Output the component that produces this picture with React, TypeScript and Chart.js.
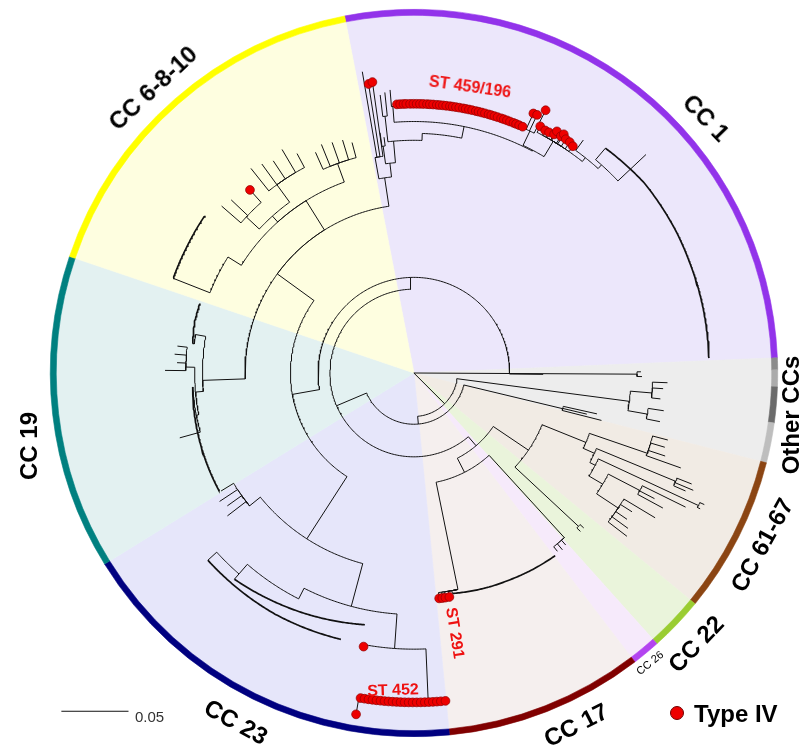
import React, { useEffect, useRef } from "react";
import { Chart, registerables } from "chart.js";

Chart.register(...registerables);

/* ---------- clade sectors (clockwise, starting at the CC 6-8-10 | CC 1 boundary) ---------- */
const cladeNames = ["CC 1", "Other CCs", "CC 61-67", "CC 22", "CC 26", "CC 17", "CC 23", "CC 19", "CC 6-8-10"];
const cladeSpanDeg = [98.6, 16.7, 25.1, 8.7, 4.5, 31.8, 63.9, 50.4, 60.3];
const cladeShade = ["#ECE7FB", "#EDEDED", "#F1EBE4", "#EAF4DB", "#F6EAFB", "#F5EFEE", "#E6E6FA", "#E3F1F1", "#FEFEE0"];

/* outer ring: same clades, "Other CCs" split into its four small groups */
const ringNames = ["CC 1", "Other a", "Other b", "Other c", "Other d", "CC 61-67", "CC 22", "CC 26", "CC 17", "CC 23", "CC 19", "CC 6-8-10"];
const ringSpanDeg = [98.6, 1.9, 2.7, 5.7, 6.4, 25.1, 8.7, 4.5, 31.8, 63.9, 50.4, 60.3];
const ringColor = ["#9233EA", "#8C8C8C", "#ABABAB", "#6B6B6B", "#BEBEBE", "#8B4513", "#9ACD32", "#B344F0", "#800000", "#000080", "#008080", "#FFFF00"];
const firstSectorBearing = -11;

/* ---------- tree nodes: [id, parent, bearing (deg, clockwise from top), distance from root (0.001 subst./site), Type IV] ---------- */
type TreeNode = [string, string | null, number, number, number?];
const treeNodes: TreeNode[] = [
  ["root", null, 90, 0],
  ["o1", "root", 90.3, 166.2],
  ["o1a", "o1", 89.7, 169.1],
  ["o1b", "o1", 90.9, 169.9],
  ["s1", "root", 135, 32.4],
  ["o2", "s1", 97.5, 161.8],
  ["o2a", "o2", 94.8, 177.9],
  ["o2a1", "o2a", 92.2, 189.0],
  ["o2a2", "o2a", 93.6, 186.0],
  ["o2a3", "o2a", 96.0, 184.6],
  ["o2b", "o2", 100.0, 176.5],
  ["o2b1", "o2b", 98.6, 188.2],
  ["o2b2", "o2b", 101.2, 186.8],
  ["s2", "s1", 175, 38.2],
  ["o3", "s2", 103.5, 114.0],
  ["o3a", "o3", 102.6, 139.7],
  ["o3b", "o3", 103.4, 132.4],
  ["o3c", "o3", 104.2, 144.1],
  ["n2", "s2", 247, 62.5],
  ["n3", "n2", 139.5, 71.3],
  ["c61", "n3", 124, 102.9],
  ["c61a", "c61", 112, 138.2],
  ["d1", "c61a", 109, 183.8],
  ["d1a", "d1", 104.8, 195.6],
  ["d1b", "d1", 106.5, 194.9],
  ["d1c", "d1", 108.3, 197.1],
  ["d1d", "d1", 109.6, 211.0],
  ["d2", "c61a", 114, 147.1],
  ["d3", "d2", 112.5, 211.0],
  ["d3a", "d3", 111.8, 222.8],
  ["d3b", "d3", 112.8, 225.7],
  ["d3c", "d3", 113.5, 220.6],
  ["d4", "d2", 117, 151.5],
  ["d5", "d4", 115, 233.8],
  ["d5a", "d5", 114.4, 237.5],
  ["d5b", "d5", 115.4, 236.0],
  ["d6", "d4", 120.5, 163.2],
  ["d7", "d6", 117.5, 189.7],
  ["d7a", "d7", 116.3, 225.7],
  ["d7b", "d7", 117.6, 202.2],
  ["d7c", "d7", 118.5, 211.0],
  ["d8", "d6", 123.5, 182.4],
  ["d8a", "d8", 121.0, 209.6],
  ["d8b", "d8", 122.5, 192.6],
  ["d8c", "d8", 124.5, 192.6],
  ["d8d", "d8", 126.0, 197.1],
  ["d8e", "d8", 127.5, 200.0],
  ["c22", "c61", 133, 167.6],
  ["c22a", "c22", 132.4, 171.3],
  ["c22b", "c22", 133.6, 171.3],
  ["n4", "n3", 153, 83.1],
  ["c26", "n4", 137.6, 166.2],
  ["c26a", "c26", 138.6, 171.0],
  ["c26b", "c26", 140.0, 172.1],
  ["c26c", "c26", 141.2, 170.6],
  ["c17", "n4", 168.5, 164.7],
  ["n1", "n2", 358, 71.3],
  ["o0", "n1", 90.6, 96.3],
  ["l1", "n1", 260, 91.9],
  ["a", "l1", 306, 125.7],
  ["c19", "a", 268, 157.4],
  ["c19a", "c19", 280, 165.0],
  ["c19b", "c19", 265, 163.2],
  ["c19c", "c19b", 271.5, 169.9],
  ["c19c1", "c19c", 270.6, 185.3],
  ["c19c2", "c19c", 272.5, 176.5],
  ["c19c3", "c19c", 274.5, 178.7],
  ["c19c4", "c19c", 276.5, 177.2],
  ["c19d", "c19b", 259, 165.0],
  ["c19d1", "c19d", 254.5, 180.9],
  ["c6", "a", 328, 151.5],
  ["c6a", "c6", 340, 166.2],
  ["c6a1", "c6a", 336, 180.1],
  ["c6a2", "c6a", 338, 183.8],
  ["c6a3", "c6a", 340.5, 182.4],
  ["c6a4", "c6a", 343, 181.6],
  ["c6a5", "c6a", 345, 177.9],
  ["c6b", "c6", 318, 157.4],
  ["c6b1", "c6b", 324, 173.5],
  ["c6b1a", "c6b1", 321.5, 194.9],
  ["c6b1b", "c6b1", 324, 192.6],
  ["c6b1c", "c6b1", 326.5, 189.7],
  ["c6b1d", "c6b1", 329.5, 193.4],
  ["c6b1e", "c6b1", 332, 185.3],
  ["c6b2", "c6b", 313, 170.6],
  ["c6b2a", "c6b2", 318.2, 183.1, 1],
  ["c6b2b", "c6b2", 313.5, 187.5],
  ["c6b2c", "c6b2", 311, 189.7],
  ["c6c", "c6", 302, 163.2],
  ["cc1", "a", 351.5, 147.1],
  ["t1", "cc1", 349.8, 163.2],
  ["t1a", "t1", 350.3, 227.9],
  ["t1b", "t1", 351.1, 218.1, 1],
  ["t1c", "t1", 351.9, 219.1, 1],
  ["k1", "cc1", 353.5, 157.4],
  ["k1a", "k1", 352.3, 170.6],
  ["k1a1", "k1a", 352.0, 180.9],
  ["k1a2", "k1a", 352.8, 177.2],
  ["k2", "k1", 355, 173.5],
  ["k2a", "k2", 353.6, 192.6],
  ["k2a1", "k2a", 353.1, 208.8],
  ["k2a2", "k2a", 354.1, 210.3],
  ["k3", "k2", 2, 178.7],
  ["k4", "k3", 11.5, 187.5],
  ["st459", "k4", 355.5, 199.3],
  ["st459a", "st459", 355.2, 211.8],
  ["k5", "k4", 28, 188.2],
  ["st2", "k5", 25.6, 200.0],
  ["st2a", "st2", 24.7, 213.0, 1],
  ["st2b", "st2", 25.5, 213.2, 1],
  ["st2c", "st2", 26.6, 219.1, 1],
  ["k6", "k5", 31, 201.5],
  ["k6r1", "k6", 27.1, 206.6, 1],
  ["k6r2", "k6", 28.4, 205.6, 1],
  ["k6r3", "k6", 29.3, 205.7, 1],
  ["k6r4", "k6", 30.4, 206.3, 1],
  ["k6r5", "k6", 30.6, 209.3, 1],
  ["k6r6", "k6", 31.8, 207.7, 1],
  ["k6r7", "k6", 32.1, 210.1, 1],
  ["k6r8", "k6", 33.0, 207.8, 1],
  ["k6r9", "k6", 34.0, 207.6, 1],
  ["k6r10", "k6", 35.0, 206.4, 1],
  ["k7", "k6", 38.5, 205.1],
  ["k7a", "k7", 36.0, 214.7],
  ["k8", "k7", 42, 208.8],
  ["k8a", "k8", 46.7, 237.5],
  ["b", "l1", 212.8, 147.1],
  ["b1", "b", 231, 157.4],
  ["b1a", "b1", 232.5, 175.0],
  ["b1b", "b1", 234.5, 170.6],
  ["b1c", "b1", 236.5, 173.5],
  ["b1d", "b1", 238.5, 168.4],
  ["b2", "b", 195, 180.1],
  ["b3", "b2", 207, 189.0],
  ["b4", "b3", 221, 198.5],
  ["b6", "b2", 184, 205.9],
  ["b6a", "b6", 190.4, 207.4, 1],
  ["b7", "b6", 177.5, 245.6],
  ["b7z", "b7", 189.6, 258.1, 1],
];

/* dense leaf fans, drawn by their outline: [parent, [bearing, distance] ...] */
const leafFans: [string, [number, number][]][] = [
  ["c17", [[170.1, 166.9], [164, 168.4], [160.7, 169.1], [155.4, 169.9], [149.2, 171.1], [142.3, 172.1]]],
  ["k8", [[40.4, 220.1], [50.4, 222.5], [61.7, 222.0], [67.9, 221.3], [77.3, 220.8], [87.1, 220.1]]],
  ["c19a", [[277.6, 166.2], [283, 167.6], [288, 167.6]]],
  ["c19d", [[266.4, 165.0], [251, 167.6], [238.6, 169.6]]],
  ["c6c", [[291.5, 192.6], [298.6, 193.4], [307, 194.9]]],
  ["b4", [[227.7, 207.4], [210, 207.4], [195.3, 205.9]]],
  ["b4", [[221, 203.7], [205, 197.1], [191, 191.2]]],
];

/* Type IV (red) rows of isolates */
const st459Bearings = [-3.6, -2.9, -2.2, -1.6, -0.8, -0.1, 0.6, 1.3, 2.0, 2.8, 3.4, 4.1, 4.9, 5.5, 6.2, 6.9, 7.7, 8.3, 9.0, 9.7, 10.5, 11.1, 11.8, 12.5, 13.3, 13.9, 14.6, 15.3, 16.1, 16.7, 17.4, 18.1, 18.9, 19.5, 20.2, 20.9, 21.7, 22.3, 23.0, 23.8];
const st459Distance = 200.7;
const st452Bearings = [189.3, 188.6, 187.9, 187.2, 186.5, 185.8, 185.1, 184.4, 183.7, 183.0, 182.3, 181.6, 180.9, 180.2, 179.5, 178.8, 178.1, 177.4, 176.7, 176.0, 175.3, 174.5];
const st452Distance = 245.6;
const st291Bearings = [173.6, 172.8, 172.0, 171.0];
const st291Distance = 169.1;

const scaleBarLength = 0.05; // substitutions per site
const UNITS_PER_SUBST = 1000;

/* view window of the tree plot, in 0.001 subst./site */
const VIEW = { xMin: -304.4, xMax: 291.2, yMin: -274.3, yMax: 274.3 };
const SCALE_BAR_ORIGIN = { x: -262.5, y: -252.2 };

const FONT = '"Liberation Sans", Arial, Helvetica, sans-serif';

const cladeLabels = [
  { text: cladeNames[0], x: 706, y: 118, rot: 46 },
  { text: cladeNames[8], x: 153, y: 88, rot: -43 },
  { text: cladeNames[7], x: 29, y: 446, rot: -90 },
  { text: cladeNames[6], x: 236, y: 722, rot: 29 },
  { text: cladeNames[5], x: 576, y: 725, rot: -27 },
  { text: cladeNames[4], x: 650, y: 663, rot: -39, small: true },
  { text: cladeNames[3], x: 696, y: 644, rot: -46 },
  { text: cladeNames[2], x: 762, y: 545, rot: -61 },
  { text: cladeNames[1], x: 791, y: 415, rot: -90 },
];
const stLabels = [
  { text: "ST 459/196", x: 470, y: 87, rot: 8 },
  { text: "ST 291", x: 455, y: 633, rot: 81 },
  { text: "ST 452", x: 393, y: 690, rot: -2 },
];

const DEG = Math.PI / 180;
const toXY = (b: number, d: number) => ({ x: d * Math.sin(b * DEG), y: d * Math.cos(b * DEG) });

function pushArc(out: any[], d: number, b0: number, b1: number) {
  const delta = (((b1 - b0) % 360) + 540) % 360 - 180;
  const steps = Math.max(1, Math.ceil((Math.abs(delta) * DEG * d) / 1.2));
  for (let i = 0; i <= steps; i++) out.push(toXY(b0 + (delta * i) / steps, d));
}

function pushPolar(out: any[], p0: [number, number], p1: [number, number]) {
  const delta = (((p1[0] - p0[0]) % 360) + 540) % 360 - 180;
  const len = Math.abs(delta) * DEG * Math.max(p0[1], p1[1]) + Math.abs(p1[1] - p0[1]);
  const steps = Math.max(1, Math.ceil(len / 1.2));
  for (let i = 1; i <= steps; i++) {
    const t = i / steps;
    out.push(toXY(p0[0] + delta * t, p0[1] + (p1[1] - p0[1]) * t));
  }
}

function buildTree() {
  const nodes: TreeNode[] = [...treeNodes];
  st459Bearings.forEach((b, i) => nodes.push([`st459-${i}`, "st459", b, st459Distance, 1]));
  st452Bearings.forEach((b, i) => nodes.push([`st452-${i}`, "b7", b, st452Distance, 1]));
  st291Bearings.forEach((b, i) => nodes.push([`st291-${i}`, "c17", b, st291Distance, 1]));
  const byId = new Map<string, TreeNode>();
  nodes.forEach((n) => byId.set(n[0], n));

  const branches: any[] = [];
  const dots: any[] = [];
  for (const n of nodes) {
    const [, parent, b, d, red] = n;
    if (red) dots.push(toXY(b, d));
    if (!parent) continue;
    const p = byId.get(parent)!;
    pushArc(branches, p[3], p[2], b);
    branches.push(toXY(b, d));
    branches.push({ x: null, y: null });
  }

  const fans: any[] = [];
  for (const [parent, pts] of leafFans) {
    const p = byId.get(parent)!;
    pushArc(branches, p[3], p[2], pts[0][0]);
    branches.push(toXY(pts[0][0], pts[0][1]));
    branches.push({ x: null, y: null });
    fans.push(toXY(pts[0][0], pts[0][1]));
    for (let i = 1; i < pts.length; i++) pushPolar(fans, pts[i - 1], pts[i]);
    fans.push({ x: null, y: null });
  }
  return { branches, dots, fans };
}

export default function App() {
  const ringRef = useRef<HTMLCanvasElement>(null);
  const treeRef = useRef<HTMLCanvasElement>(null);

  useEffect(() => {
    document.body.style.margin = "0";
    const ringChart = new Chart(ringRef.current!, {
      type: "doughnut",
      data: {
        labels: ringNames,
        datasets: [
          {
            label: "clade ring",
            data: ringSpanDeg,
            backgroundColor: ringColor,
            borderColor: ringColor,
            borderWidth: 0.6,
            weight: 6,
          } as any,
          {
            label: "clade sectors",
            data: cladeSpanDeg,
            backgroundColor: cladeShade,
            borderColor: cladeShade,
            borderWidth: 0.6,
            weight: 358,
          } as any,
        ],
      },
      options: {
        animation: false,
        responsive: false,
        events: [],
        rotation: firstSectorBearing,
        cutout: 0,
        layout: { padding: { left: 18, right: 0, top: 9, bottom: 9 } },
        plugins: { legend: { display: false }, tooltip: { enabled: false } },
      } as any,
    });

    const { branches, dots, fans } = buildTree();
    const barEnd = SCALE_BAR_ORIGIN.x + scaleBarLength * UNITS_PER_SUBST;
    const treeChart = new Chart(treeRef.current!, {
      type: "scatter",
      data: {
        datasets: [
          {
            label: "Type IV",
            data: dots,
            showLine: false,
            pointRadius: 4.4,
            pointBackgroundColor: "#EE0000",
            pointBorderColor: "#8E0000",
            pointBorderWidth: 0.7,
            order: 0,
          },
          {
            label: "leaf fans",
            data: fans,
            showLine: true,
            borderColor: "#111111",
            borderWidth: 1.7,
            pointRadius: 0,
            spanGaps: false,
            order: 1,
          },
          {
            label: "branches",
            data: branches,
            showLine: true,
            borderColor: "#111111",
            borderWidth: 1,
            pointRadius: 0,
            spanGaps: false,
            order: 2,
          },
          {
            label: "scale",
            data: [
              { x: SCALE_BAR_ORIGIN.x, y: SCALE_BAR_ORIGIN.y },
              { x: barEnd, y: SCALE_BAR_ORIGIN.y },
            ],
            showLine: true,
            borderColor: "#111111",
            borderWidth: 1,
            pointRadius: 0,
            order: 3,
          },
        ],
      },
      options: {
        animation: false,
        responsive: false,
        events: [],
        layout: { padding: 0 },
        plugins: { legend: { display: false }, tooltip: { enabled: false } },
        scales: {
          x: { type: "linear", min: VIEW.xMin, max: VIEW.xMax, display: false },
          y: { type: "linear", min: VIEW.yMin, max: VIEW.yMax, display: false },
        },
      } as any,
    });

    return () => {
      ringChart.destroy();
      treeChart.destroy();
    };
  }, []);

  const abs: React.CSSProperties = { position: "absolute", left: 0, top: 0 };

  return (
    <div style={{ position: "relative", width: 810, height: 746, overflow: "hidden", background: "#ffffff", fontFamily: FONT }}>
      <canvas ref={ringRef} width={810} height={746} style={abs} />
      <canvas ref={treeRef} width={810} height={746} style={abs} />
      {cladeLabels.map((l) => (
        <div
          key={l.text}
          style={{
            position: "absolute",
            left: l.x,
            top: l.y,
            transform: `translate(-50%, -50%) rotate(${l.rot}deg)`,
            whiteSpace: "nowrap",
            fontWeight: l.small ? 400 : 700,
            fontSize: l.small ? 11 : 24,
            lineHeight: 1,
            color: "#000",
          }}
        >
          {l.text}
        </div>
      ))}
      {stLabels.map((l) => (
        <div
          key={l.text}
          style={{
            position: "absolute",
            left: l.x,
            top: l.y,
            transform: `translate(-50%, -50%) rotate(${l.rot}deg)`,
            whiteSpace: "nowrap",
            fontWeight: 700,
            fontSize: 16,
            lineHeight: 1,
            color: "#EE1111",
          }}
        >
          {l.text}
        </div>
      ))}
      <div style={{ position: "absolute", left: 135, top: 716, transform: "translateY(-50%)", fontSize: 15, lineHeight: 1, color: "#333" }}>
        {scaleBarLength.toFixed(2)}
      </div>
      <div
        style={{
          position: "absolute",
          left: 670,
          top: 706,
          width: 14,
          height: 14,
          borderRadius: "50%",
          background: "#EE0000",
          boxSizing: "border-box",
          border: "1px solid #6E0000",
        }}
      />
      <div style={{ position: "absolute", left: 694, top: 714, transform: "translateY(-50%)", fontWeight: 700, fontSize: 24, lineHeight: 1, color: "#000" }}>
        Type IV
      </div>
    </div>
  );
}
